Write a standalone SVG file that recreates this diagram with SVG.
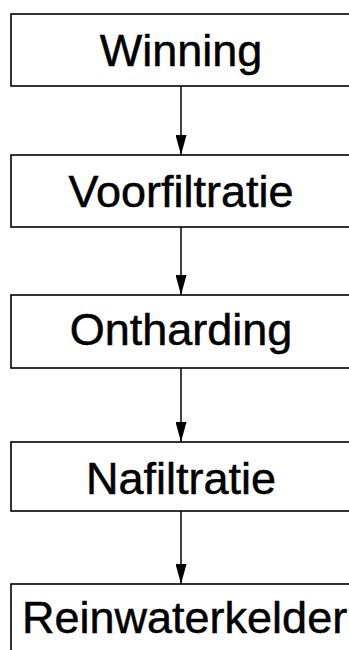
<svg xmlns="http://www.w3.org/2000/svg" width="349" height="650" viewBox="0 0 349 650">
  <defs>
    <style>
      .box { fill: #ffffff; stroke: #000000; stroke-width: 1.6; }
      .label { font-family: "Liberation Sans", Arial, Helvetica, sans-serif; font-size: 45px; fill: #000000; stroke: #000000; stroke-width: 0.5; text-anchor: middle; }
      .edge { stroke: #000000; stroke-width: 1.5; fill: none; marker-end: url(#arrow); }
    </style>
    <!-- filled triangular arrowhead, tip at the end of the line -->
    <marker id="arrow" viewBox="0 0 20 11" refX="20" refY="5.5" markerWidth="20" markerHeight="11" markerUnits="userSpaceOnUse" orient="auto">
      <path d="M0,0 L20,5.5 L0,11 Z" fill="#000000"/>
    </marker>
  </defs>
  <rect width="349" height="650" fill="#ffffff"/>

  <g id="connectors">
    <line class="edge" x1="181" y1="86" x2="181" y2="155"/>
    <line class="edge" x1="181" y1="227" x2="181" y2="295"/>
    <line class="edge" x1="181" y1="368" x2="181" y2="442"/>
    <line class="edge" x1="181" y1="511" x2="181" y2="584"/>
  </g>

  <g id="winning">
    <rect class="box" x="11" y="14" width="360" height="72"/>
    <text class="label" x="181" y="66">Winning</text>
  </g>
  <g id="voorfiltratie">
    <rect class="box" x="11" y="155" width="360" height="72"/>
    <text class="label" x="181" y="207">Voorfiltratie</text>
  </g>
  <g id="ontharding">
    <rect class="box" x="11" y="295" width="360" height="73"/>
    <text class="label" x="181" y="345">Ontharding</text>
  </g>
  <g id="nafiltratie">
    <rect class="box" x="11" y="442" width="360" height="69"/>
    <text class="label" x="181" y="494">Nafiltratie</text>
  </g>
  <g id="reinwaterkelder">
    <rect class="box" x="11" y="584" width="360" height="80"/>
    <text class="label" x="22" y="633" style="text-anchor: start">Reinwaterkelder</text>
  </g>
</svg>
